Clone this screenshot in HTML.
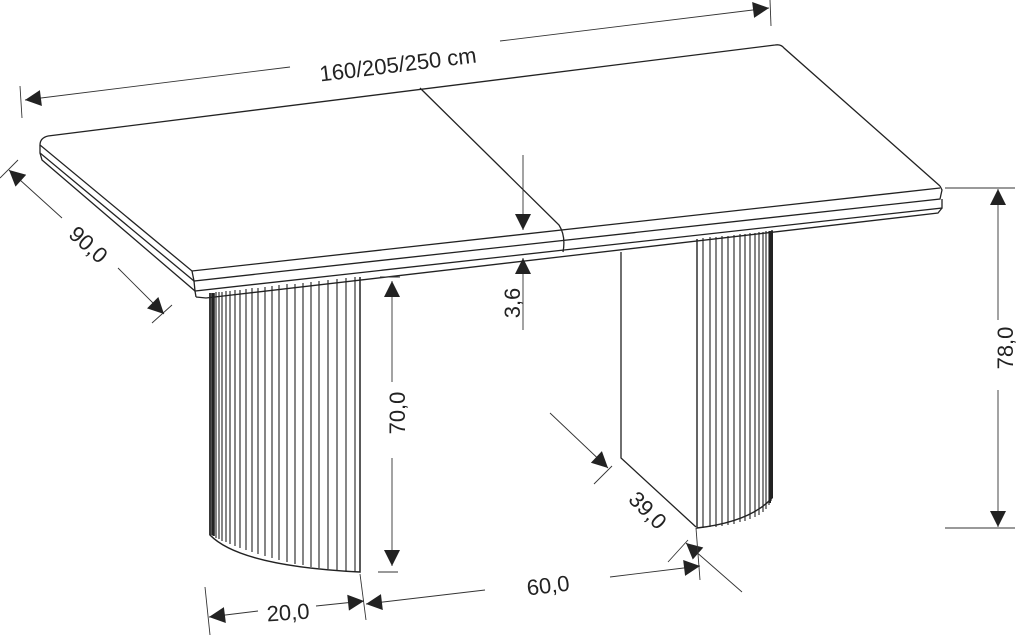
<!DOCTYPE html>
<html><head><meta charset="utf-8"><style>
html,body{margin:0;padding:0;background:#fff}
svg{display:block}
text{font-family:"Liberation Sans",Arial,sans-serif;font-size:22px;fill:#222}
</style></head><body>
<svg width="1020" height="643" viewBox="0 0 1020 643" xmlns="http://www.w3.org/2000/svg">
<defs>
<marker id="a" viewBox="0 0 10 10" refX="10" refY="5" markerWidth="32" markerHeight="16" markerUnits="userSpaceOnUse" orient="auto-start-reverse"><path d="M0,0 L10,5 L0,10 z" fill="#222"/></marker>
</defs>
<g fill="none" stroke="#222" stroke-width="1.3">
<path d="M48,136 L775,45 Q781,44 784,48 L940,186"/>
<path d="M48,136 Q40,138 40,145 L192,271 L940,188"/>
<path d="M40,145 L40,153 L194,281"/>
<path d="M40,153 L42,160 L195,291 L196,297"/>
<path d="M192,271 L194,281 L940,199 L942,190 L940,186"/>
<path d="M194,281 L195,291 L942,208 L942,199"/>
<path d="M196,297 L206,298 L938,213 L942,208"/>
<path d="M420,88 L559,225 Q566,236 563,252"/>
<path d="M210,293 L210,535 Q240,566 360,572 L360,277" stroke-width="1.5"/>
<g stroke-width="1.1">
<path d="M213,293V536M216,292V538M219,292V539M222,292V541M226,291V542M230,291V544M235,290V546M240,290V548M246,289V550M252,288V552M258,288V554M265,287V556M272,286V558M279,285V560M287,284V562M295,284V564M303,283V565M311,282V567M319,281V568M328,280V569M337,279V570M346,278V571M355,277V572"/>
</g>
<path d="M210,293V535M212,293V535M214,293V536" stroke-width="1.6"/>
<path d="M621,252 L621,458 L696,527"/>
<path d="M697,239 L697,528 Q750,522 772,498 L772,230" stroke-width="1.4"/>
<path d="M703,238V528M710,237V527M716,237V527M722,236V526M728,236V525M734,235V524M740,234V522M745,234V521M750,233V519M755,233V517M759,232V515M763,232V512M766,231V509M769,231V505M771,231V501" stroke-width="1.1"/>
<path d="M770,231V503M772,231V498" stroke-width="2"/>
</g>
<g fill="none" stroke="#333" stroke-width="0.9">
<path d="M20,86 L22,118"/><path d="M770,0 L771,26"/>
<path d="M25,100 L290,67" marker-start="url(#a)"/><path d="M500,41 L769,8" marker-end="url(#a)"/>
<path d="M0,178 L18,160"/><path d="M152,323 L172,305"/>
<path d="M9,170 L62,218" marker-start="url(#a)"/><path d="M118,268 L164,314" marker-end="url(#a)"/>
<path d="M523,155 L523,230" marker-end="url(#a)"/><path d="M523,330 L523,258" marker-end="url(#a)"/>
<path d="M392,382 L392,281" marker-end="url(#a)"/><path d="M392,458 L392,566" marker-end="url(#a)"/>
<path d="M378,572 L398,572" /><path d="M380,277 L400,277"/>
<path d="M945,188 L1015,188"/><path d="M945,528 L1015,528"/>
<path d="M998,320 L998,189" marker-end="url(#a)"/><path d="M998,390 L998,527" marker-end="url(#a)"/>
<path d="M550,413 L608,468" marker-end="url(#a)"/><path d="M594,484 L612,466"/>
<path d="M742,592 L686,543" marker-end="url(#a)"/><path d="M668,562 L688,540"/>
<path d="M696,528 L700,580"/><path d="M360,574 L366,620"/><path d="M205,587 L210,635"/>
<path d="M485,590 L366,604" marker-end="url(#a)"/><path d="M610,577 L700,566" marker-end="url(#a)"/>
<path d="M258,611 L209,617" marker-end="url(#a)"/><path d="M316,606 L364,601" marker-end="url(#a)"/>
</g>
<text x="398" y="72" text-anchor="middle" transform="rotate(-7 398 65)">160/205/250 cm</text>
<text x="88" y="252" text-anchor="middle" transform="rotate(42 88 245)">90,0</text>
<text x="520" y="317" text-anchor="middle" transform="rotate(-90 513 310)">3,6</text>
<text x="404" y="428" text-anchor="middle" transform="rotate(-90 397 420)">70,0</text>
<text x="1012" y="363" text-anchor="middle" transform="rotate(-90 1005 355)">78,0</text>
<text x="648" y="518" text-anchor="middle" transform="rotate(45 648 510)">39,0</text>
<text x="548" y="593" text-anchor="middle" transform="rotate(-7 548 585)">60,0</text>
<text x="288" y="620" text-anchor="middle" transform="rotate(-4 288 612)">20,0</text>
</svg>
</body></html>
